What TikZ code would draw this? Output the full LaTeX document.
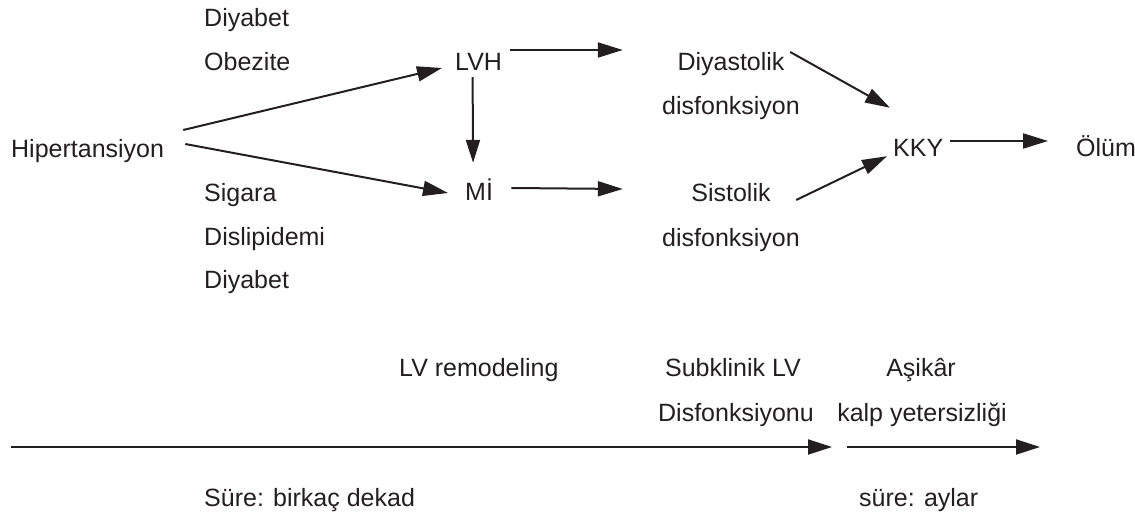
\documentclass[tikz,border=0pt]{standalone}
\usepackage{fontspec}
\setmainfont{Liberation Sans}
\usetikzlibrary{arrows.meta}
\definecolor{ink}{RGB}{35,31,32}
\begin{document}
\begin{tikzpicture}[x=1pt,y=-1pt,
  lbl/.style={inner sep=0pt,text height=18pt,text depth=5pt,text=ink,font=\fontsize{25}{30}\selectfont},
  arr/.style={draw=ink,line width=2pt,-{Triangle[length=25pt,width=15pt]}}]
\useasboundingbox (0,0) rectangle (1135,518);
% left column
\node[lbl,anchor=base west] (diab1) at (204,27) {Diyabet};
\node[lbl,anchor=base west] (obez) at (204,71) {Obezite};
\node[lbl,anchor=base west] (hip) at (11,158) {Hipertansiyon};
\node[lbl,anchor=base west] (sig) at (204,202) {Sigara};
\node[lbl,anchor=base west] (disl) at (204,246) {Dislipidemi};
\node[lbl,anchor=base west] (diab2) at (204,289) {Diyabet};
% middle
\node[lbl,anchor=base west] (lvh) at (455,71) {LVH};
\node[lbl,anchor=base west] (mi) at (465,201) {Mİ};
\node[lbl,anchor=base] (dia) at (731,71) {Diyastolik};
\node[lbl,anchor=base] (disf1) at (731,115) {disfonksiyon};
\node[lbl,anchor=base] (sis) at (731,202) {Sistolik};
\node[lbl,anchor=base] (disf2) at (731,247) {disfonksiyon};
\node[lbl,anchor=base west] (kky) at (893,157) {KKY};
\node[lbl,anchor=base west] (olum) at (1076,157) {Ölüm};
% connectors
\draw[arr] ([xshift=19pt,yshift=21.5pt]hip.east) -- ([xshift=-13pt,yshift=-3.5pt]lvh.west);
\draw[arr] ([xshift=21pt,yshift=7.5pt]hip.east) -- ([xshift=-17pt,yshift=1.5pt]mi.west);
\draw[arr,-{Triangle[length=23pt,width=14pt]}] ([xshift=-6pt,yshift=-1pt]lvh.south) -- ([xshift=-6pt,yshift=20pt]mi.north);
\draw[arr] ([xshift=7.4pt,yshift=14.5pt]lvh.east) -- ([xshift=-54.5pt,yshift=14.5pt]dia.west);
\draw[arr] ([xshift=18.2pt,yshift=6.5pt]mi.east) -- ([xshift=-68.4pt,yshift=6.5pt]sis.west);
\draw[arr] ([xshift=5.5pt,yshift=12.5pt]dia.east) -- ([xshift=-3pt,yshift=31pt]kky.north west);
\draw[arr] ([xshift=25.4pt,yshift=-4.5pt]sis.east) -- ([xshift=-6pt,yshift=6pt]kky.south west);
\draw[arr] ([xshift=7pt,yshift=9.5pt]kky.east) -- ([xshift=-28pt,yshift=9.5pt]olum.west);
% timeline labels
\node[lbl,anchor=base west] (lvr) at (399,377) {LV remodeling};
\node[lbl,anchor=base] (sub) at (733,377) {Subklinik LV};
\node[lbl,anchor=base] (disfu) at (736,421) {Disfonksiyonu};
\node[lbl,anchor=base] (asi) at (921,377) {Aşikâr};
\node[lbl,anchor=base] (kalp) at (922,421) {kalp yetersizliği};
\node[lbl,anchor=base west] (sure1) at (204,506) {Süre: birkaç dekad};
\node[lbl,anchor=base west] (sure2) at (859,506) {süre: aylar};
% timeline
\coordinate (t0) at (11,447);
\coordinate (t1) at (832,447);
\coordinate (t2) at (847,447);
\coordinate (t3) at (1040,447);
\draw[arr,-{Triangle[length=24pt,width=15pt]}] (t0) -- (t1);
\draw[arr,-{Triangle[length=24pt,width=15pt]}] (t2) -- (t3);
\end{tikzpicture}
\end{document}
